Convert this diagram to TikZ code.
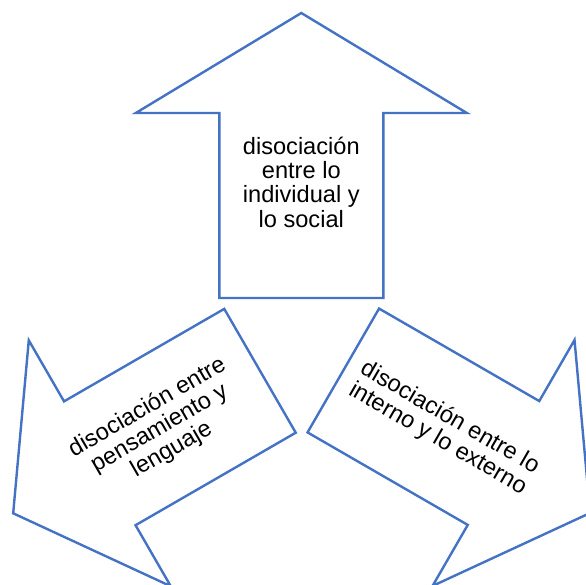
\documentclass[tikz,border=0pt]{standalone}
\usepackage{fontspec}
\setmainfont{Liberation Sans}
\definecolor{arrowblue}{HTML}{4472C4}
\tikzset{
      arrowline/.style={
        draw=arrowblue,
        line width=2.4pt,
        line join=miter,
        fill=white
      },
      arrowtext/.style={
        align=center,
        inner sep=0pt,
        font=\fontsize{23.6}{24.3}\selectfont
      }
    }

\begin{document}
\begin{tikzpicture}[x=1pt,y=1pt]
    \useasboundingbox (0,0) rectangle (586,585);
    \clip (0,0) rectangle (586,585);
    % upward arrow
    \begin{scope}[shift={(301.3,287)}, rotate=90]
      \draw[arrowline] (0,-82) -- (185,-82) -- (185,-165.5) -- (285,0) -- (185,165.5) -- (185,82) -- (0,82) -- cycle;
      \node[arrowtext] (individual) at (116,0) {disociación\\entre lo\\individual y\\lo social};
    \end{scope}
    % arrow to the lower left
    \begin{scope}[shift={(260,214.2)}, rotate=210]
      \draw[arrowline] (0,-71.5) -- (185,-71.5) -- (185,-142) -- (285,0) -- (185,142) -- (185,71.5) -- (0,71.5) -- cycle;
      \node[arrowtext, rotate=30] (pensamiento) at (116,0) {disociación entre\\pensamiento y\\lenguaje};
    \end{scope}
    % arrow to the lower right
    \begin{scope}[shift={(343.3,214.5)}, rotate=330]
      \draw[arrowline] (0,-71.5) -- (185,-71.5) -- (185,-142) -- (285,0) -- (185,142) -- (185,71.5) -- (0,71.5) -- cycle;
      \node[arrowtext, rotate=-30] (interno) at (116,0) {disociación entre lo\\interno y lo externo};
    \end{scope}
    \end{tikzpicture}
\end{document}
